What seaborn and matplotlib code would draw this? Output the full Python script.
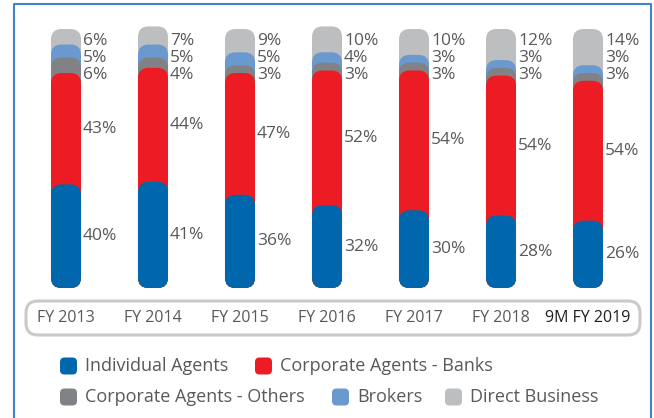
import numpy as np
import pandas as pd
import matplotlib
matplotlib.use("Agg")
import matplotlib.pyplot as plt
from matplotlib.patches import FancyBboxPatch
import seaborn as sns

years = ["FY 2013", "FY 2014", "FY 2015", "FY 2016", "FY 2017", "FY 2018", "9M FY 2019"]
individual_agents = [40, 41, 36, 32, 30, 28, 26]
corporate_banks = [43, 44, 47, 52, 54, 54, 54]
corporate_others = [6, 4, 3, 3, 3, 3, 3]
brokers = [5, 5, 5, 4, 3, 3, 3]
direct_business = [6, 7, 9, 10, 10, 12, 14]

series_names = ["Individual Agents", "Corporate Agents - Banks",
                "Corporate Agents - Others", "Brokers", "Direct Business"]
series_values = [individual_agents, corporate_banks, corporate_others,
                 brokers, direct_business]
colors = ["#0067AC", "#ED1C24", "#808285", "#6A99CF", "#BCBEC0"]

FONT = "Open Sans"
TEXT_COLOR = "#58595B"

sns.set_theme(style="white")
plt.rcParams["font.family"] = [FONT, "DejaVu Sans"]

W, H = 654, 418
fig = plt.figure(figsize=(W / 100, H / 100), dpi=100)

# decoration layer in pixel coordinates
deco = fig.add_axes([0, 0, 1, 1], zorder=0)
deco.set_xlim(0, W)
deco.set_ylim(H, 0)
deco.axis("off")

# chart layer: bars from 0 to 100 %
ax = fig.add_axes([0, (H - 288) / H, 1, 259 / H], zorder=1)
ax.patch.set_visible(False)

cum = np.cumsum(np.array(series_values), axis=0)
bar_w = 0.345
# draw cumulative layers from the top one downwards so lower segments sit in front
for k in range(len(series_values) - 1, -1, -1):
    df = pd.DataFrame({"year": years, "value": cum[k]})
    sns.barplot(data=df, x="year", y="value", color=colors[k], width=bar_w,
                saturation=1, ax=ax, errorbar=None)

x0 = (0 - 66) / 87
x1 = (W - 66) / 87
ax.set_xlim(x0, x1)
ax.set_ylim(0, 100)

px_per_x = 87.0
px_per_y = 2.59
r_px = 10.5
rects = list(ax.patches)
for p in rects:
    x, y = p.get_x(), p.get_y()
    w, h = p.get_width(), p.get_height()
    fc = p.get_facecolor()
    p.remove()
    rs = r_px / px_per_x
    fb = FancyBboxPatch((x, y), w, h,
                        boxstyle=f"round,pad=0,rounding_size={rs}",
                        mutation_aspect=(r_px / px_per_y) / rs,
                        facecolor=fc, edgecolor="none", clip_on=False)
    ax.add_patch(fb)

# value labels
label_dx = (83 - 66) / 87
slot_top = 95.5
slot_gap = 6.6
for i in range(len(years)):
    # big segments labelled at their middle
    for k in (0, 1):
        lo = cum[k - 1][i] if k > 0 else 0
        mid = (lo + cum[k][i]) / 2
        ax.text(i + label_dx, mid, f"{series_values[k][i]}%", ha="left",
                va="center", fontsize=12.5, color=TEXT_COLOR, clip_on=False)
    # small segments stacked from the top
    for j, k in enumerate((4, 3, 2)):
        ax.text(i + label_dx, slot_top - j * slot_gap, f"{series_values[k][i]}%",
                ha="left", va="center", fontsize=12.5, color=TEXT_COLOR,
                clip_on=False)

# category labels
ax.set_xlabel("")
ax.set_ylabel("")
ax.set_yticks([])
ax.tick_params(axis="x", length=0, pad=15.5, labelsize=11.5, labelcolor=TEXT_COLOR)
ax.set_xticks(range(len(years)))
ax.set_xticklabels(years)
ax.get_xticklabels()[-1].set_color("#231F20")
for s in ax.spines.values():
    s.set_visible(False)

# rounded frame around category labels
deco.add_patch(FancyBboxPatch((26, 301), 614, 34,
                              boxstyle="round,pad=0,rounding_size=12",
                              facecolor="none", edgecolor="#C9CACB", linewidth=2.2))

# outer border
deco.plot([13.5, 13.5, 651, 651], [418, 3.5, 3.5, 418], color="#3D85C6",
          linewidth=1.5, solid_capstyle="butt")

# legend
legend_items = [
    (60, 366, 0), (255, 366, 1),
    (60, 397, 2), (332, 397, 3), (445, 397, 4),
]
for lx, ly, k in legend_items:
    deco.add_patch(FancyBboxPatch((lx, ly - 8.5), 17, 17,
                                  boxstyle="round,pad=0,rounding_size=4.5",
                                  facecolor=colors[k], edgecolor="none"))
    deco.text(lx + 25, ly, series_names[k], ha="left", va="center",
              fontsize=13, color=TEXT_COLOR)

fig.savefig("out.png", dpi=100)
